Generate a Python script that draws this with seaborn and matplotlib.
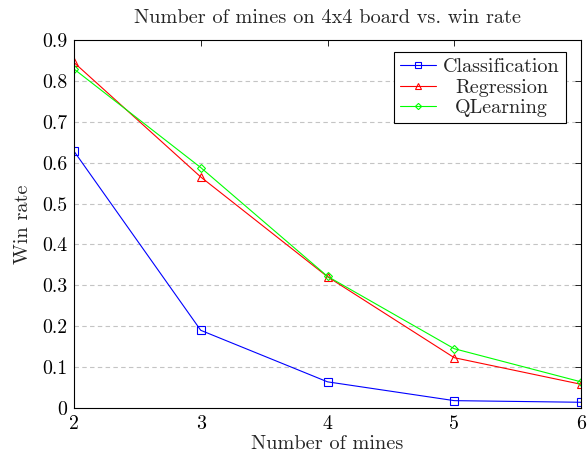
import matplotlib
matplotlib.use("Agg")
import matplotlib.pyplot as plt
import seaborn as sns
import pandas as pd

mines = [2, 3, 4, 5, 6]
classification = [0.628, 0.190, 0.064, 0.018, 0.014]
regression = [0.845, 0.565, 0.321, 0.123, 0.058]
qlearning = [0.829, 0.588, 0.322, 0.145, 0.064]
series_names = ["Classification", "Regression", "QLearning"]
yticks = [0, 0.1, 0.2, 0.3, 0.4, 0.5, 0.6, 0.7, 0.8, 0.9]
ytick_labels = ["0", "0.1", "0.2", "0.3", "0.4", "0.5", "0.6", "0.7", "0.8", "0.9"]

sns.set_theme(style="white")
plt.rcParams['font.family'] = ['cmr10', 'Liberation Serif', 'DejaVu Serif']

df = pd.DataFrame({
    "mines": mines * 3,
    "win": classification + regression + qlearning,
    "method": [series_names[0]] * 5 + [series_names[1]] * 5 + [series_names[2]] * 5,
})

fig = plt.figure(figsize=(5.87, 4.53), dpi=100)
ax = fig.add_axes([74 / 587, 45 / 453, (581 - 74) / 587, (408 - 40) / 453])

palette = {"Classification": "#0000ff", "Regression": "#ff0000", "QLearning": "#00ff00"}
markers = {"Classification": "s", "Regression": "^", "QLearning": "D"}
msizes = {"Classification": 5.5, "Regression": 5.5, "QLearning": 4.2}

for name in series_names:
    sub = df[df["method"] == name]
    sns.lineplot(data=sub, x="mines", y="win", ax=ax, color=palette[name],
                 marker=markers[name], markersize=msizes[name], markerfacecolor="none",
                 markeredgecolor=palette[name], markeredgewidth=0.8, linewidth=0.8,
                 label=name)

ax.set_xlim(2, 6)
ax.set_ylim(0, 0.9)
ax.set_xticks(mines)
ax.set_xticklabels([str(m) for m in mines])
ax.set_yticks(yticks)
ax.set_yticklabels(ytick_labels)
for y in yticks[1:-1]:
    ax.axhline(y, color="#c4c4c4", linestyle=(0, (4, 3)), linewidth=0.8, zorder=0)

ax.tick_params(direction="in", top=True, right=True, length=4, width=0.6,
               labelsize=14.3, colors="black", pad=5)
for s in ax.spines.values():
    s.set_color("black")
    s.set_linewidth(0.8)

ax.set_xlabel("Number of mines", fontsize=14.6, labelpad=1.5)
ax.set_ylabel("Win rate", fontsize=14.6, labelpad=7)
ax.set_title("Number of mines on 4x4 board vs. win rate", fontsize=14.6, pad=12)

leg = ax.legend(loc="upper right", bbox_to_anchor=(1 - 15 / 507, 1 - 12 / 368),
                fontsize=14.5, frameon=True, fancybox=False,
                edgecolor="black", framealpha=1, borderaxespad=0.0,
                handlelength=1.8, handletextpad=0.36, borderpad=0.3, labelspacing=0.12,
                markerscale=0.75)
leg.get_frame().set_linewidth(0.8)

# centre the legend texts within their column
fig.canvas.draw()
renderer = fig.canvas.get_renderer()
widths = [t.get_window_extent(renderer).width for t in leg.get_texts()]
maxw = max(widths)
for t, w in zip(leg.get_texts(), widths):
    t.set_x((maxw - w) / 2)

fig.savefig("out.png", dpi=100)
